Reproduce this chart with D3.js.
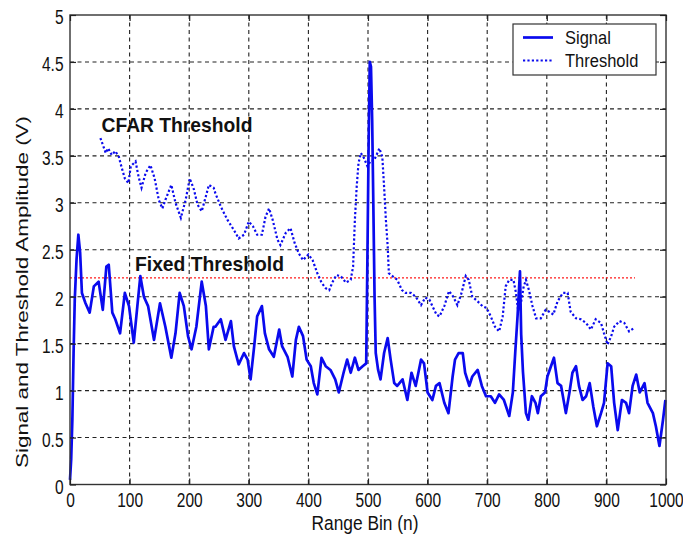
<!DOCTYPE html>
<html>
<head>
<meta charset="utf-8">
<script src="https://cdn.jsdelivr.net/npm/d3@7/dist/d3.min.js"></script>
<style>
  html, body { margin: 0; padding: 0; background: #fff; }
  svg { display: block; }
  text { font-family: "Liberation Sans", Arial, sans-serif; fill: #111; }
</style>
</head>
<body>
<svg id="chart" width="683" height="536"></svg>
<script>
// ---------- data ----------
const xTicks = [0, 100, 200, 300, 400, 500, 600, 700, 800, 900, 1000];
const xTickLabels = ["0", "100", "200", "300", "400", "500", "600", "700", "800", "900", "1000"];
const yTicks = [0, 0.5, 1, 1.5, 2, 2.5, 3, 3.5, 4, 4.5, 5];
const yTickLabels = ["0", "0.5", "1", "1.5", "2", "2.5", "3", "3.5", "4", "4.5", "5"];

const signalBins = [0, 2, 4, 6, 8, 11, 14, 17, 20, 26, 33, 40, 48, 55, 61, 65, 71, 76, 84, 92, 99,
  107, 113, 118, 124, 131, 141, 151, 160, 170, 177, 184, 191, 198, 204, 212, 221, 228, 233, 241,
  244, 253, 261, 270, 275, 283, 292, 298, 303, 309, 314, 322, 327, 334, 342, 351, 356, 365, 373,
  379, 384, 391, 397, 404, 409, 415, 422, 429, 437, 445, 451, 459, 465, 471, 478, 484, 491, 497,
  499, 501, 503, 505, 507, 509, 511, 513, 517, 521, 527, 533, 538, 544, 549, 558, 566, 573, 580,
  589, 594, 600, 608, 614, 620, 628, 635, 642, 646, 652, 659, 663, 670, 675, 684, 691, 698, 706,
  713, 720, 728, 737, 743, 747, 751, 755, 757, 760, 765, 769, 775, 781, 785, 790, 797, 801, 807,
  812, 818, 824, 832, 838, 843, 849, 854, 860, 866, 872, 878, 884, 891, 896, 902, 908, 913, 919,
  926, 933, 938, 944, 950, 956, 964, 969, 978, 983, 989, 995, 999];
const signalValues = [0.05, 0.27, 0.7, 1.4, 1.97, 2.4, 2.66, 2.47, 2.04, 1.93, 1.83, 2.11, 2.16, 1.86, 2.32, 2.34, 1.83, 1.76, 1.61, 2.04, 1.90,
  1.51, 1.90, 2.22, 2.00, 1.90, 1.54, 1.93, 1.68, 1.35, 1.61, 2.04, 1.90, 1.58, 1.44, 1.68, 2.16, 1.90, 1.44, 1.68,
  1.68, 1.76, 1.54, 1.74, 1.47, 1.28, 1.40, 1.33, 1.12, 1.47, 1.79, 1.90, 1.61, 1.44, 1.36, 1.65, 1.47, 1.36, 1.15,
  1.54, 1.68, 1.58, 1.33, 1.26, 1.08, 0.96, 1.35, 1.26, 1.22, 1.12, 0.98, 1.19, 1.33, 1.19, 1.35, 1.22, 1.26, 1.29,
  2.4, 3.6, 4.5, 4.45, 3.88, 2.96, 2.0, 1.4, 1.22, 1.12, 1.40, 1.56, 1.33, 1.08, 1.05, 1.12, 0.90, 1.19, 1.05,
  1.33, 1.29, 0.98, 0.90, 1.05, 1.08, 0.87, 0.76, 1.15, 1.33, 1.40, 1.40, 1.19, 1.05, 1.15, 1.22, 1.05, 0.94, 0.94,
  0.87, 0.96, 0.90, 0.73, 0.98, 1.40, 1.8, 2.27, 1.6, 1.2, 0.76, 0.69, 0.94, 0.87, 0.76, 0.94, 0.98, 1.15, 1.26,
  1.35, 1.08, 1.05, 0.76, 0.98, 1.19, 1.26, 1.05, 0.90, 0.94, 1.08, 0.83, 0.62, 0.76, 0.87, 1.29, 1.26, 0.87, 0.58,
  0.90, 0.87, 0.76, 1.05, 1.17, 0.98, 1.08, 0.87, 0.76, 0.62, 0.41, 0.69, 0.90];

const thresholdBins = [51, 60, 64, 70, 76, 82, 86, 92, 98, 102, 110, 115, 120, 127, 135, 142, 149, 155, 160,
  170, 177, 186, 194, 201, 208, 214, 221, 228, 233, 241, 244, 253, 264, 275, 283, 292, 300, 307, 314,
  322, 328, 334, 340, 348, 353, 362, 370, 377, 384, 391, 400, 407, 415, 422, 429, 435, 440, 447, 454,
  463, 471, 475, 478, 481, 484, 488, 493, 499, 505, 510, 515, 519, 524, 527, 530, 533, 535, 541, 549,
  557, 563, 572, 580, 589, 596, 603, 608, 615, 620, 628, 636, 643, 650, 657, 664, 669, 675, 684, 692,
  699, 706, 713, 720, 726, 731, 737, 744, 748, 752, 757, 761, 765, 770, 776, 782, 790, 798, 804, 811,
  818, 827, 835, 840, 849, 857, 866, 874, 882, 891, 896, 902, 908, 913, 922, 930, 938, 947];
const thresholdValues = [3.69, 3.53, 3.58, 3.51, 3.55, 3.49, 3.39, 3.26, 3.21, 3.39, 3.44, 3.28, 3.16, 3.32, 3.40, 3.26, 3.03, 2.94, 3.03,
  3.19, 3.00, 2.84, 3.03, 3.26, 3.14, 2.98, 2.91, 3.07, 3.19, 3.16, 3.10, 2.96, 2.82, 2.71, 2.62, 2.66, 2.80, 2.75, 2.66,
  2.66, 2.85, 2.94, 2.82, 2.61, 2.55, 2.68, 2.73, 2.57, 2.46, 2.39, 2.45, 2.39, 2.25, 2.15, 2.09, 2.07, 2.15, 2.23, 2.22,
  2.15, 2.18, 2.32, 2.82, 3.17, 3.42, 3.53, 3.48, 3.39, 3.45, 3.45, 3.52, 3.58, 3.49, 3.17, 2.82, 2.54, 2.25, 2.22, 2.18,
  2.07, 2.04, 2.04, 2.00, 1.91, 1.99, 1.97, 1.90, 1.81, 1.79, 1.90, 2.06, 2.00, 1.91, 2.04, 2.22, 2.18, 2.00, 1.95, 1.90,
  1.88, 1.79, 1.68, 1.63, 1.79, 2.11, 2.18, 2.18, 2.05, 1.85, 1.95, 2.10, 2.18, 2.07, 1.90, 1.77, 1.77, 1.86, 1.84, 1.81,
  1.95, 2.04, 2.04, 1.84, 1.77, 1.76, 1.72, 1.65, 1.76, 1.72, 1.61, 1.49, 1.58, 1.68, 1.74, 1.72, 1.63, 1.67];

const fixedThresholdBins = [0, 948];
const fixedThresholdValues = [2.2, 2.2];

const legendLabels = ["Signal", "Threshold"];
const annotationLabels = ["CFAR Threshold", "Fixed Threshold"];

// ---------- layout ----------
const svg = d3.select("#chart");
const L = 70, R = 666, T = 15, B = 484.5;
const x = d3.scaleLinear().domain([0, 1000]).range([L, R]);
const y = d3.scaleLinear().domain([0, 5]).range([B, T]);
const BLUE = "#0a0aee";
const FS = 16.5, SX = 0.94, SY = 1.17;

// grid
const grid = svg.append("g");
grid.selectAll("line.gx").data(xTicks.slice(1, -1)).join("line")
  .attr("x1", d => x(d)).attr("x2", d => x(d)).attr("y1", T).attr("y2", B)
  .attr("stroke", "#222").attr("stroke-width", 1.1).attr("stroke-dasharray", "4,3.5");
grid.selectAll("line.gy").data(yTicks.slice(1, -1)).join("line")
  .attr("y1", d => y(d)).attr("y2", d => y(d)).attr("x1", L).attr("x2", R)
  .attr("stroke", "#222").attr("stroke-width", 1.1).attr("stroke-dasharray", "4,3.5");

const line = d3.line().x(d => x(d[0])).y(d => y(d[1]));

// fixed threshold
svg.append("path")
  .datum(fixedThresholdBins.map((b, i) => [b, fixedThresholdValues[i]]))
  .attr("d", line).attr("fill", "none")
  .attr("stroke", "#ff1a1a").attr("stroke-width", 1.3).attr("stroke-dasharray", "2,2");

// CFAR threshold
svg.append("path")
  .datum(thresholdBins.map((b, i) => [b, thresholdValues[i]]))
  .attr("d", line).attr("fill", "none")
  .attr("stroke", BLUE).attr("stroke-width", 2.2).attr("stroke-dasharray", "2.2,2.2");

// signal
svg.append("path")
  .datum(signalBins.map((b, i) => [b, signalValues[i]]))
  .attr("d", line).attr("fill", "none")
  .attr("stroke", BLUE).attr("stroke-width", 2.7).attr("stroke-linejoin", "round");

// axes box
svg.append("rect").attr("x", L).attr("y", T).attr("width", R - L).attr("height", B - T)
  .attr("fill", "none").attr("stroke", "#333").attr("stroke-width", 1.4);

// axes
const xAxis = svg.append("g").attr("transform", `translate(0,${B})`)
  .call(d3.axisBottom(x).tickValues(xTicks).tickFormat((d, i) => xTickLabels[i]).tickSizeInner(-6).tickSizeOuter(0));
const xTop = svg.append("g").attr("transform", `translate(0,${T})`)
  .call(d3.axisTop(x).tickValues(xTicks).tickFormat("").tickSizeInner(-6).tickSizeOuter(0));
const yAxis = svg.append("g").attr("transform", `translate(${L},0)`)
  .call(d3.axisLeft(y).tickValues(yTicks).tickFormat((d, i) => yTickLabels[i]).tickSizeInner(-6).tickSizeOuter(0));
const yRight = svg.append("g").attr("transform", `translate(${R},0)`)
  .call(d3.axisRight(y).tickValues(yTicks).tickFormat("").tickSizeInner(-6).tickSizeOuter(0));
[xAxis, xTop, yAxis, yRight].forEach(g => {
  g.select(".domain").remove();
  g.selectAll(".tick line").attr("stroke", "#222").attr("stroke-width", 1.2);
});
xAxis.selectAll(".tick text")
  .attr("y", 0).attr("dy", null)
  .attr("transform", `translate(0,22.5) scale(${SX},${SY})`)
  .style("font-size", FS + "px").attr("fill", "#111");
yAxis.selectAll(".tick text")
  .attr("x", 0).attr("dy", null)
  .attr("transform", `translate(-6.5,8.6) scale(${SX},${SY})`)
  .style("font-size", FS + "px").attr("fill", "#111");

// axis titles
svg.append("text")
  .attr("transform", `translate(365,529.5) scale(1,${SY})`)
  .attr("text-anchor", "middle").style("font-size", "17.5px")
  .attr("textLength", 107).attr("lengthAdjust", "spacingAndGlyphs")
  .text("Range Bin (n)");
svg.append("text")
  .attr("transform", `translate(28,292) rotate(-90)`)
  .attr("text-anchor", "middle").style("font-size", "16.5px")
  .attr("textLength", 352).attr("lengthAdjust", "spacingAndGlyphs")
  .text("Signal and Threshold Amplitude (V)");

// annotations
svg.append("text")
  .attr("transform", `translate(101.5,131.5) scale(1,1.2)`)
  .style("font-size", "17px").style("font-weight", "bold")
  .attr("textLength", 151).attr("lengthAdjust", "spacingAndGlyphs")
  .text(annotationLabels[0]);
svg.append("text")
  .attr("transform", `translate(135,270.5) scale(1,1.2)`)
  .style("font-size", "17px").style("font-weight", "bold")
  .attr("textLength", 149).attr("lengthAdjust", "spacingAndGlyphs")
  .text(annotationLabels[1]);

// legend
const lg = svg.append("g");
lg.append("rect").attr("x", 513).attr("y", 24).attr("width", 143).attr("height", 51)
  .attr("fill", "#fff").attr("stroke", "#333").attr("stroke-width", 1.2);
const legendStyles = [
  { dash: null, w: 2.7 },
  { dash: "2.2,2.2", w: 2.2 }
];
const legendY = [37.5, 60.5];
legendLabels.forEach((lab, i) => {
  lg.append("line").attr("x1", 523).attr("x2", 553).attr("y1", legendY[i]).attr("y2", legendY[i])
    .attr("stroke", BLUE).attr("stroke-width", legendStyles[i].w)
    .attr("stroke-dasharray", legendStyles[i].dash);
  lg.append("text")
    .attr("transform", `translate(565,${legendY[i] + 6}) scale(1,1.12)`)
    .style("font-size", "16.5px").text(lab);
});
</script>
</body>
</html>
